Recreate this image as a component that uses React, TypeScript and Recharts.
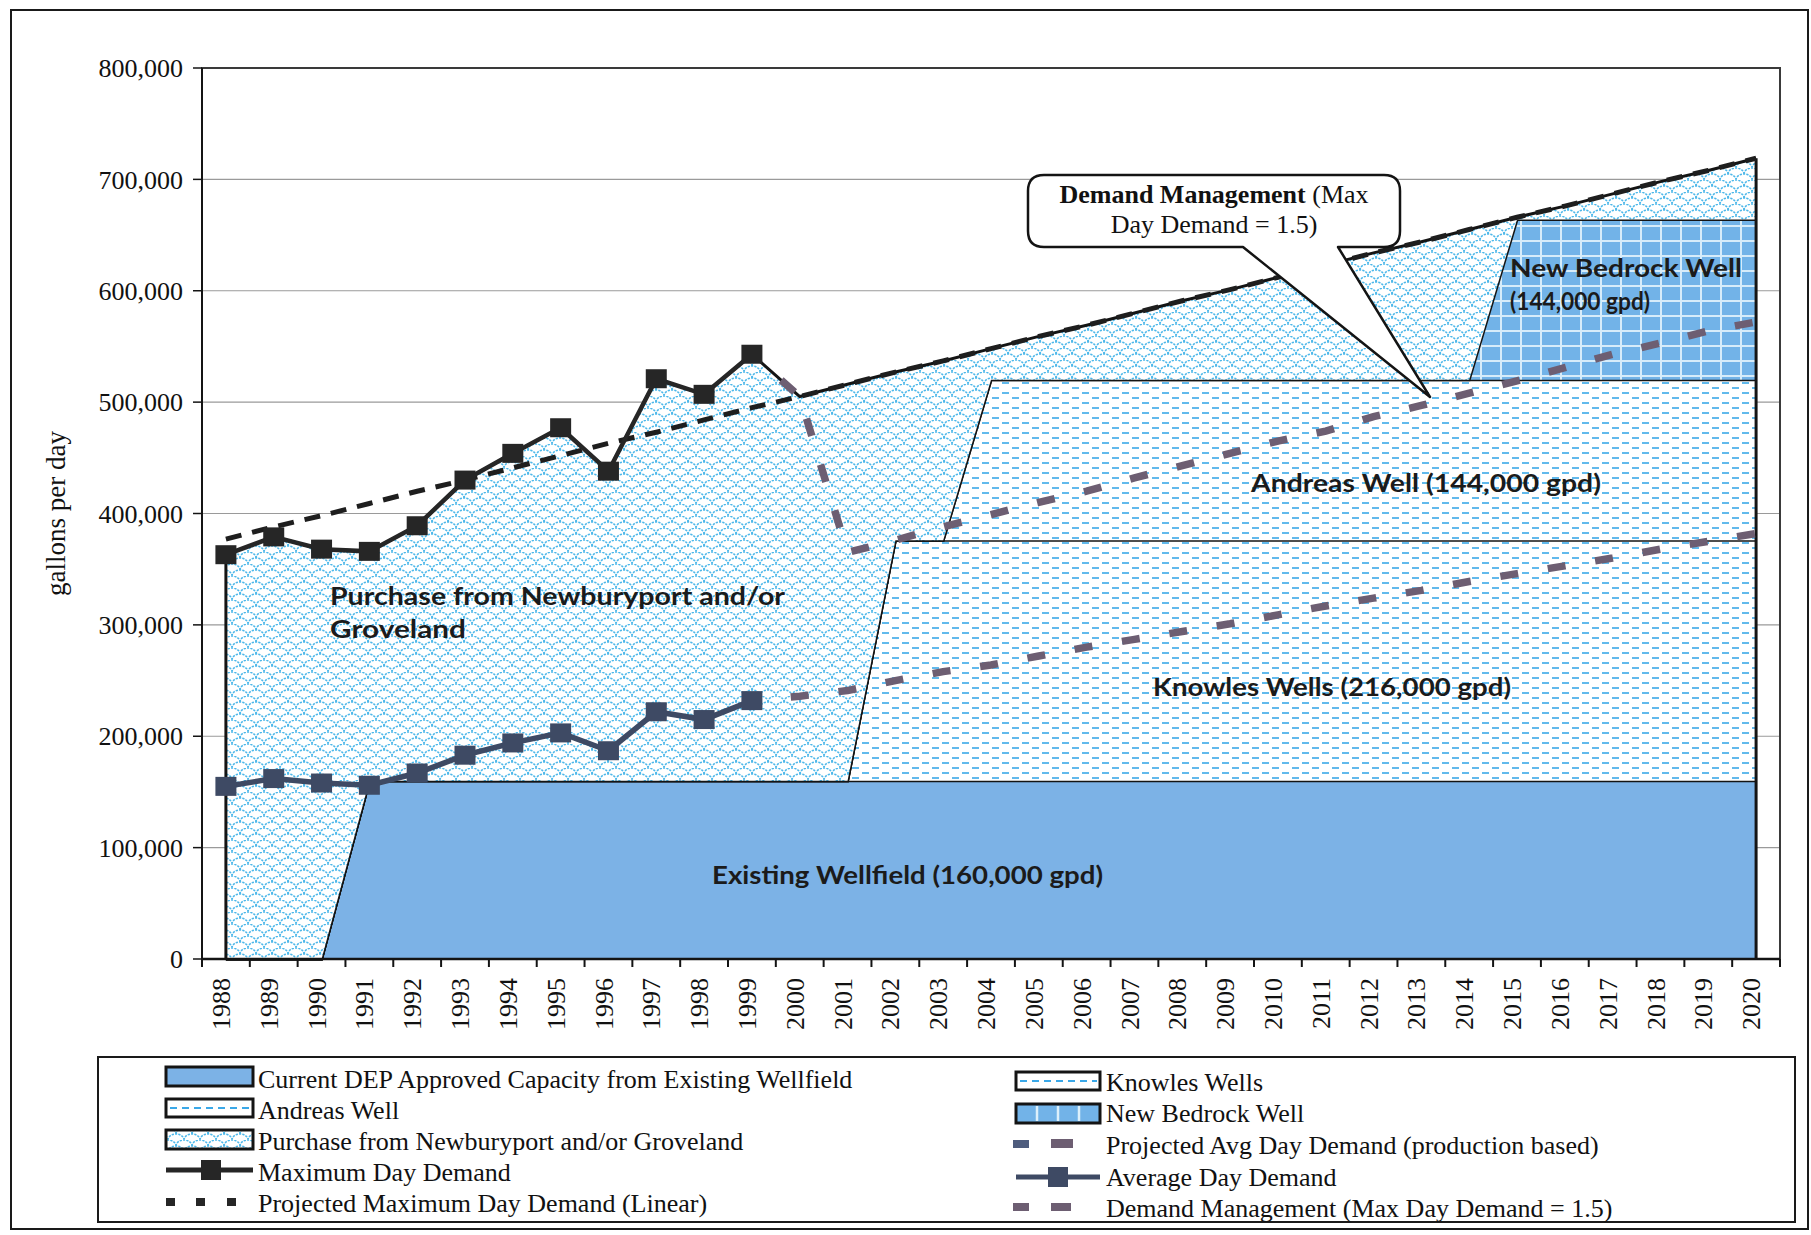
import React from 'react';
import {
  ComposedChart,
  Area,
  Line,
  XAxis,
  YAxis,
  CartesianGrid,
  ReferenceLine,
  ReferenceArea,
  Label,
} from 'recharts';

// ---------- data (gallons per day) ----------
const years = [
  '1988', '1989', '1990', '1991', '1992', '1993', '1994', '1995', '1996', '1997', '1998',
  '1999', '2000', '2001', '2002', '2003', '2004', '2005', '2006', '2007', '2008', '2009',
  '2010', '2011', '2012', '2013', '2014', '2015', '2016', '2017', '2018', '2019', '2020',
];

// recorded demand, 1988-1999
const maxDayDemand = [363000, 379000, 368000, 366000, 389000, 430000, 454000, 477000, 438000, 521000, 507000, 543000];
const avgDayDemand = [155000, 162000, 158000, 156000, 167000, 183000, 194000, 203000, 187000, 222000, 215000, 232000];

// linear trend of maximum day demand, 1988-2020
const projectedMaxDay = [
  377000, 388000, 398000, 409000, 420000, 430000, 441000, 452000, 463000, 473000, 484000,
  495000, 505000, 516000, 527000, 537000, 548000, 559000, 569000, 580000, 591000, 601000,
  612000, 623000, 634000, 644000, 655000, 666000, 676000, 687000, 698000, 708000, 719000,
];

// projections from 1999 to 2020
const projectionStart = '1999';
const projectedAvgDay = [
  232000, 236000, 241000, 250000, 258000, 264000, 272000, 280000, 287000, 294000, 301000,
  309000, 317000, 324000, 331000, 339000, 346000, 353000, 360000, 368000, 375000, 382000,
];
const demandManagement = [
  543000, 505000, 365000, 376000, 388000, 399000, 410000, 420000, 432000, 443000, 454000,
  465000, 474000, 487000, 497000, 508000, 519000, 531000, 543000, 553000, 564000, 572000,
];

// source capacity available in each year
const existingWellfield = [
  0, 0, 0, 160000, 160000, 160000, 160000, 160000, 160000, 160000, 160000,
  160000, 160000, 160000, 160000, 160000, 160000, 160000, 160000, 160000, 160000, 160000,
  160000, 160000, 160000, 160000, 160000, 160000, 160000, 160000, 160000, 160000, 160000,
];
const knowlesWells = [
  0, 0, 0, 0, 0, 0, 0, 0, 0, 0, 0,
  0, 0, 0, 216000, 216000, 216000, 216000, 216000, 216000, 216000, 216000,
  216000, 216000, 216000, 216000, 216000, 216000, 216000, 216000, 216000, 216000, 216000,
];
const andreasWell = [
  0, 0, 0, 0, 0, 0, 0, 0, 0, 0, 0,
  0, 0, 0, 0, 0, 144000, 144000, 144000, 144000, 144000, 144000,
  144000, 144000, 144000, 144000, 144000, 144000, 144000, 144000, 144000, 144000, 144000,
];
const newBedrockWell = [
  0, 0, 0, 0, 0, 0, 0, 0, 0, 0, 0,
  0, 0, 0, 0, 0, 0, 0, 0, 0, 0, 0,
  0, 0, 0, 0, 0, 144000, 144000, 144000, 144000, 144000, 144000,
];

const yTicks = [0, 100000, 200000, 300000, 400000, 500000, 600000, 700000, 800000];

// ---------- table for the chart ----------
const projIdx = years.indexOf(projectionStart);
const rows = years.map((year, i) => {
  const supply = existingWellfield[i] + knowlesWells[i] + andreasWell[i] + newBedrockWell[i];
  const demandTop = i < maxDayDemand.length ? maxDayDemand[i] : projectedMaxDay[i];
  return {
    year,
    existing: existingWellfield[i],
    knowles: knowlesWells[i],
    andreas: andreasWell[i],
    bedrock: newBedrockWell[i],
    purchase: Math.max(0, demandTop - supply),
    maxDay: i < maxDayDemand.length ? maxDayDemand[i] : null,
    avgDay: i < avgDayDemand.length ? avgDayDemand[i] : null,
    projMax: projectedMaxDay[i],
    projAvg: i >= projIdx ? projectedAvgDay[i - projIdx] : null,
    demandMgmt: i >= projIdx ? demandManagement[i - projIdx] : null,
  };
});

// ---------- layout & style ----------
const W = 1811;
const H = 1235;
const PLOT_LEFT = 202;
const PLOT_RIGHT = 1780;
const PLOT_TOP = 68;
const PLOT_BOTTOM = 959;
const Y_AXIS_W = 190;
const X_AXIS_H = 100;
const HALF_BAND = (PLOT_RIGHT - PLOT_LEFT) / years.length / 2;

const SERIF = '"Liberation Serif", "Times New Roman", Times, serif';
const SANS = 'Lato, "Open Sans", "DejaVu Sans", sans-serif';

const BLUE = '#7CB2E6';
const BEDROCK_BLUE = '#72B3E8';
const CYAN = '#3AA8E8';
const SCALE_CYAN = '#4DB8EA';
const MAX_COLOR = '#262626';
const AVG_COLOR = '#3E4A64';
const PROJ_COLOR = '#6D5E72';
const OUTLINE = '#141414';

const fmt = (v: number) => v.toLocaleString('en-US');

const PatternDefs = ({ prefix }: { prefix: string }) => (
  <defs>
    <pattern id={`${prefix}-scales`} width={16} height={12} patternUnits="userSpaceOnUse">
      <rect width={16} height={12} fill="#fff" />
      <path
        d="M0 6 A8 6 0 0 1 16 6 M-8 12 A8 6 0 0 1 8 12 M8 12 A8 6 0 0 1 24 12"
        fill="none"
        stroke={SCALE_CYAN}
        strokeWidth={1.5}
        strokeDasharray="2.2 1.1"
      />
    </pattern>
    <pattern id={`${prefix}-dashes`} width={20} height={10} patternUnits="userSpaceOnUse">
      <rect width={20} height={10} fill="#fff" />
      <line x1={2} y1={3} x2={9} y2={3} stroke={CYAN} strokeWidth={1.6} />
      <line x1={12} y1={8} x2={19} y2={8} stroke={CYAN} strokeWidth={1.6} />
    </pattern>
    <pattern id={`${prefix}-grid`} width={20} height={15} patternUnits="userSpaceOnUse">
      <rect width={20} height={15} fill={BEDROCK_BLUE} />
      <line x1={1} y1={0} x2={1} y2={15} stroke="#D6ECFA" strokeWidth={2} />
      <line x1={0} y1={1} x2={20} y2={1} stroke="#D6ECFA" strokeWidth={2} />
    </pattern>
  </defs>
);

const XTick = (props: any) => {
  const { x, y, payload } = props;
  const isLast = payload.value === years[years.length - 1];
  return (
    <g>
      <line x1={x - HALF_BAND} x2={x - HALF_BAND} y1={y} y2={y + 8} stroke={OUTLINE} strokeWidth={2} />
      {isLast && (
        <line x1={x + HALF_BAND} x2={x + HALF_BAND} y1={y} y2={y + 8} stroke={OUTLINE} strokeWidth={2} />
      )}
      <text
        transform={`translate(${x - 5},${y + 19}) rotate(-90)`}
        textAnchor="end"
        dy="0.35em"
        fontFamily={SERIF}
        fontSize={26}
        fill="#111"
      >
        {payload.value}
      </text>
    </g>
  );
};

const YTitle = (props: any) => {
  const vb = props.viewBox || { x: 12, y: PLOT_TOP, height: PLOT_BOTTOM - PLOT_TOP };
  const cx = vb.x + 44;
  const cy = vb.y + vb.height / 2;
  return (
    <text
      transform={`translate(${cx},${cy}) rotate(-90)`}
      textAnchor="middle"
      dy="0.35em"
      fontFamily={SERIF}
      fontSize={27}
      fill="#111"
    >
      gallons per day
    </text>
  );
};

const squareDot = (fill: string, w: number, h: number) => (props: any) => {
  const { cx, cy, index } = props;
  if (cx == null || cy == null) return <g key={`n-${index}`} />;
  return <rect key={`s-${index}`} x={cx - w / 2} y={cy - h / 2} width={w} height={h} fill={fill} />;
};

// ---------- annotations and legend ----------
const areaLabelStyle = {
  fontFamily: SANS,
  fontWeight: 700,
  fontSize: 25,
  fill: '#1b1b1b',
};

const Legend = () => {
  const lx = 166;
  const ltx = 258;
  const rx = 1016;
  const rtx = 1106;
  const txt = { fontFamily: SERIF, fontSize: 26, fill: '#111' };
  return (
    <g>
      <rect x={98} y={1057} width={1697} height={165} fill="#fff" stroke="#1a1a1a" strokeWidth={2} />

      {/* left column */}
      <rect x={lx} y={1067} width={87} height={19} fill={BLUE} stroke={OUTLINE} strokeWidth={3} />
      <text x={ltx} y={1088} {...txt}>Current  DEP Approved Capacity from Existing Wellfield</text>

      <rect x={lx} y={1099} width={87} height={18} fill="#fff" stroke={OUTLINE} strokeWidth={3} />
      <line x1={lx + 4} x2={lx + 84} y1={1108} y2={1108} stroke={CYAN} strokeWidth={1.8} strokeDasharray="7 5" />
      <text x={ltx} y={1119} {...txt}>Andreas Well</text>

      <rect x={lx} y={1130} width={87} height={19} fill="url(#lg-scales)" stroke={OUTLINE} strokeWidth={3} />
      <text x={ltx} y={1150} {...txt}>Purchase from Newburyport and/or Groveland</text>

      <line x1={lx} x2={lx + 87} y1={1170} y2={1170} stroke={MAX_COLOR} strokeWidth={5} />
      <rect x={lx + 35} y={1160} width={20} height={20} fill={MAX_COLOR} />
      <text x={ltx} y={1181} {...txt}>Maximum Day Demand</text>

      <rect x={lx} y={1198} width={9} height={8} fill={MAX_COLOR} />
      <rect x={lx + 30} y={1198} width={9} height={8} fill={MAX_COLOR} />
      <rect x={lx + 61} y={1198} width={9} height={8} fill={MAX_COLOR} />
      <text x={ltx} y={1212} {...txt}>Projected Maximum Day Demand (Linear)</text>

      {/* right column */}
      <rect x={rx} y={1072} width={84} height={18} fill="#fff" stroke={OUTLINE} strokeWidth={3} />
      <line x1={rx + 4} x2={rx + 81} y1={1081} y2={1081} stroke={CYAN} strokeWidth={1.8} strokeDasharray="7 5" />
      <text x={rtx} y={1091} {...txt}>Knowles Wells</text>

      <rect x={rx} y={1104} width={84} height={19} fill={BEDROCK_BLUE} stroke={OUTLINE} strokeWidth={3} />
      <line x1={rx + 21} x2={rx + 21} y1={1106} y2={1121} stroke="#DDF0FB" strokeWidth={2.5} />
      <line x1={rx + 42} x2={rx + 42} y1={1106} y2={1121} stroke="#DDF0FB" strokeWidth={2.5} />
      <line x1={rx + 63} x2={rx + 63} y1={1106} y2={1121} stroke="#DDF0FB" strokeWidth={2.5} />
      <text x={rtx} y={1122} {...txt}>New Bedrock Well</text>

      <rect x={rx - 3} y={1140} width={16} height={8} fill="#4E5C7D" />
      <rect x={rx + 35} y={1139} width={22} height={9} fill={PROJ_COLOR} />
      <text x={rtx} y={1154} {...txt}>Projected Avg Day Demand (production based)</text>

      <line x1={rx} x2={rx + 84} y1={1177} y2={1177} stroke={AVG_COLOR} strokeWidth={5} />
      <rect x={rx + 32} y={1167} width={20} height={20} fill={AVG_COLOR} />
      <text x={rtx} y={1186} {...txt}>Average Day Demand</text>

      <rect x={rx - 3} y={1203} width={16} height={8} fill={PROJ_COLOR} />
      <rect x={rx + 35} y={1203} width={20} height={8} fill={PROJ_COLOR} />
      <text x={rtx} y={1217} {...txt}>Demand Management (Max Day Demand = 1.5)</text>
    </g>
  );
};

const Callout = () => (
  <g>
    <path
      d="M1044 175 H1384 Q1400 175 1400 191 V231 Q1400 247 1384 247 H1338 L1430 397 L1243 247 H1044 Q1028 247 1028 231 V191 Q1028 175 1044 175 Z"
      fill="#fff"
      stroke={OUTLINE}
      strokeWidth={2.5}
      strokeLinejoin="round"
    />
    <text x={1214} y={203} textAnchor="middle" fontFamily={SERIF} fontSize={26} fill="#111">
      <tspan fontWeight="bold">Demand Management</tspan> (Max
    </text>
    <text x={1214} y={233} textAnchor="middle" fontFamily={SERIF} fontSize={26} fill="#111">
      Day Demand = 1.5)
    </text>
  </g>
);

const AreaLabels = () => (
  <g>
    <text x={330} y={605} {...areaLabelStyle} textLength={455} lengthAdjust="spacingAndGlyphs">
      Purchase from Newburyport and/or
    </text>
    <text x={330} y={638} {...areaLabelStyle} textLength={136} lengthAdjust="spacingAndGlyphs">
      Groveland
    </text>
    <text x={712} y={884} {...areaLabelStyle} textLength={391} lengthAdjust="spacingAndGlyphs">
      Existing Wellfield (160,000 gpd)
    </text>
    <text x={1153} y={696} {...areaLabelStyle} textLength={358} lengthAdjust="spacingAndGlyphs">
      Knowles Wells (216,000 gpd)
    </text>
    <text x={1251} y={492} {...areaLabelStyle} textLength={350} lengthAdjust="spacingAndGlyphs">
      Andreas Well (144,000 gpd)
    </text>
    <text x={1510} y={277} {...areaLabelStyle} textLength={232} lengthAdjust="spacingAndGlyphs">
      New Bedrock Well
    </text>
    <text x={1510} y={310} {...areaLabelStyle} textLength={140} lengthAdjust="spacingAndGlyphs">
      (144,000 gpd)
    </text>
  </g>
);

export default function App() {
  const last = years[years.length - 1];
  return (
    <div style={{ position: 'absolute', left: 0, top: 0, width: W, height: H, background: '#fff' }}>
      <ComposedChart
        width={W}
        height={H}
        data={rows}
        margin={{
          top: PLOT_TOP,
          right: W - PLOT_RIGHT,
          bottom: H - PLOT_BOTTOM - X_AXIS_H,
          left: PLOT_LEFT - Y_AXIS_W,
        }}
      >
        <PatternDefs prefix="ch" />
        <CartesianGrid vertical={false} stroke="#9a9a9a" strokeWidth={1.2} />
        <XAxis
          dataKey="year"
          type="category"
          scale="band"
          interval={0}
          height={X_AXIS_H}
          tickSize={0}
          tickMargin={0}
          tickLine={false}
          tick={<XTick />}
          axisLine={{ stroke: OUTLINE, strokeWidth: 2.5 }}
        />
        <YAxis
          type="number"
          width={Y_AXIS_W}
          domain={[0, 800000]}
          ticks={yTicks}
          interval={0}
          tickFormatter={fmt}
          tickSize={9}
          tickMargin={10}
          tick={{ fontFamily: SERIF, fontSize: 26, fill: '#111' }}
          tickLine={{ stroke: OUTLINE, strokeWidth: 1.5 }}
          axisLine={{ stroke: OUTLINE, strokeWidth: 2 }}
        >
          <Label content={<YTitle />} />
        </YAxis>

        <Area type="linear" dataKey="existing" stackId="s" fill={BLUE} fillOpacity={1} stroke={OUTLINE} strokeWidth={3} dot={false} activeDot={false} isAnimationActive={false} />
        <Area type="linear" dataKey="knowles" stackId="s" fill="url(#ch-dashes)" fillOpacity={1} stroke={OUTLINE} strokeWidth={3} dot={false} activeDot={false} isAnimationActive={false} />
        <Area type="linear" dataKey="andreas" stackId="s" fill="url(#ch-dashes)" fillOpacity={1} stroke={OUTLINE} strokeWidth={3} dot={false} activeDot={false} isAnimationActive={false} />
        <Area type="linear" dataKey="bedrock" stackId="s" fill="url(#ch-grid)" fillOpacity={1} stroke={OUTLINE} strokeWidth={3} dot={false} activeDot={false} isAnimationActive={false} />
        <Area type="linear" dataKey="purchase" stackId="s" fill="url(#ch-scales)" fillOpacity={1} stroke={OUTLINE} strokeWidth={3} dot={false} activeDot={false} isAnimationActive={false} />

        <ReferenceLine segment={[{ x: years[0], y: 0 }, { x: years[0], y: maxDayDemand[0] }]} stroke={OUTLINE} strokeWidth={3} />
        <ReferenceLine segment={[{ x: last, y: 0 }, { x: last, y: projectedMaxDay[projectedMaxDay.length - 1] }]} stroke={OUTLINE} strokeWidth={3} />

        <Line type="linear" dataKey="projMax" stroke="#1e1e1e" strokeWidth={5} strokeDasharray="16 11" dot={false} activeDot={false} isAnimationActive={false} />
        <Line type="linear" dataKey="maxDay" stroke={MAX_COLOR} strokeWidth={4.5} dot={squareDot(MAX_COLOR, 21, 19)} activeDot={false} isAnimationActive={false} />
        <Line type="linear" dataKey="projAvg" stroke={PROJ_COLOR} strokeWidth={7.5} strokeDasharray="18 30" strokeDashoffset={9} dot={false} activeDot={false} isAnimationActive={false} />
        <Line type="linear" dataKey="avgDay" stroke={AVG_COLOR} strokeWidth={5.5} dot={squareDot(AVG_COLOR, 21, 19)} activeDot={false} isAnimationActive={false} />
        <Line type="linear" dataKey="demandMgmt" stroke={PROJ_COLOR} strokeWidth={7.5} strokeDasharray="18 30" strokeDashoffset={9} dot={false} activeDot={false} isAnimationActive={false} />

        <ReferenceArea y1={0} y2={800000} fill="none" stroke="#3a3a3a" strokeWidth={2} />
      </ComposedChart>

      <svg width={W} height={H} style={{ position: 'absolute', left: 0, top: 0, pointerEvents: 'none' }}>
        <PatternDefs prefix="lg" />
        <rect x={11} y={10} width={1797} height={1219} fill="none" stroke="#1a1a1a" strokeWidth={2} />
        <AreaLabels />
        <Callout />
        <Legend />
      </svg>
    </div>
  );
}
